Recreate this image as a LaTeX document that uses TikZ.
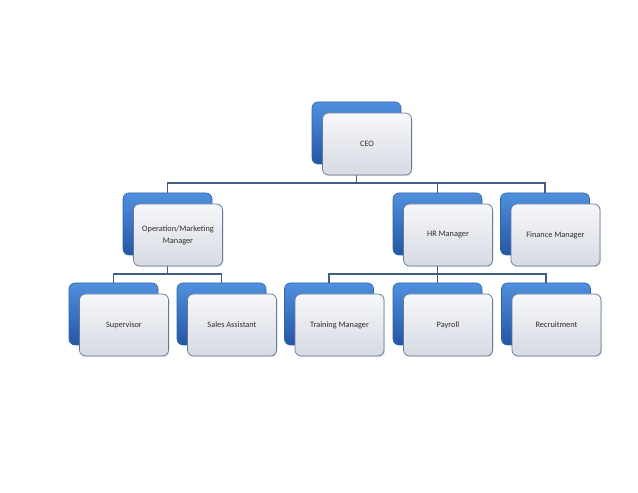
\documentclass[tikz,border=0pt]{standalone}
\usepackage{fontspec}
\setmainfont{Carlito}
\usetikzlibrary{positioning,shadows}
\definecolor{blueTop}{HTML}{5090DE}
\definecolor{blueBot}{HTML}{2456A4}
\definecolor{blueLine}{HTML}{2F62AE}
\definecolor{paleTop}{HTML}{F6F7FA}
\definecolor{paleBot}{HTML}{D6DAE2}
\definecolor{paleLine}{HTML}{62799A}
\definecolor{linkBlue}{HTML}{3E5E86}
\definecolor{labelGray}{HTML}{2E2E2E}
\tikzset{
  backbox/.style={rounded corners=6pt, minimum width=89pt, minimum height=62pt,
    inner sep=0pt, draw=blueLine, line width=0.6pt, top color=blueTop, bottom color=blueBot},
  frontbox/.style={rounded corners=6pt, minimum width=89pt, minimum height=62pt,
    inner sep=1pt, draw=paleLine, line width=0.7pt, top color=paleTop, bottom color=paleBot,
    drop shadow={shadow xshift=1pt, shadow yshift=-1pt, opacity=0.25},
    align=center, text=labelGray, font=\fontsize{8.3}{12}\selectfont},
  link/.style={draw=linkBlue, line width=1.6pt}
}
\begin{document}
\begin{tikzpicture}[x=1pt, y=1pt]
  \useasboundingbox (0,0) rectangle (638,493);
  % blue cards behind
  \foreach \unit/\ux/\uy in {ceo/356.5/360, ops/167.5/269, hr/437.5/269, fin/545/269,
      sup/113.5/179, sales/221.5/179, train/329/179, pay/437.5/179, rec/546/179} {
    \node[backbox] (\unit-b) at (\ux,\uy) {};
  }
  % connectors
  \foreach \boss/\staff in {ceo/ops, ceo/hr, ceo/fin, ops/sup, ops/sales,
      hr/train, hr/pay, hr/rec} {
    \draw[link] (\boss-b.south) -- ++(0,-19) -| (\staff-b.north);
  }
  % front cards with labels
  \foreach \unit/\utext in {ceo/CEO, ops/{Operation/Marketing\\Manager}, hr/HR Manager,
      fin/Finance Manager, sup/Supervisor, sales/Sales Assistant,
      train/Training Manager, pay/Payroll, rec/Recruitment} {
    \node[frontbox] (\unit-f) at ([xshift=10.5pt, yshift=-11pt]\unit-b.center) {\utext};
  }
\end{tikzpicture}
\end{document}
